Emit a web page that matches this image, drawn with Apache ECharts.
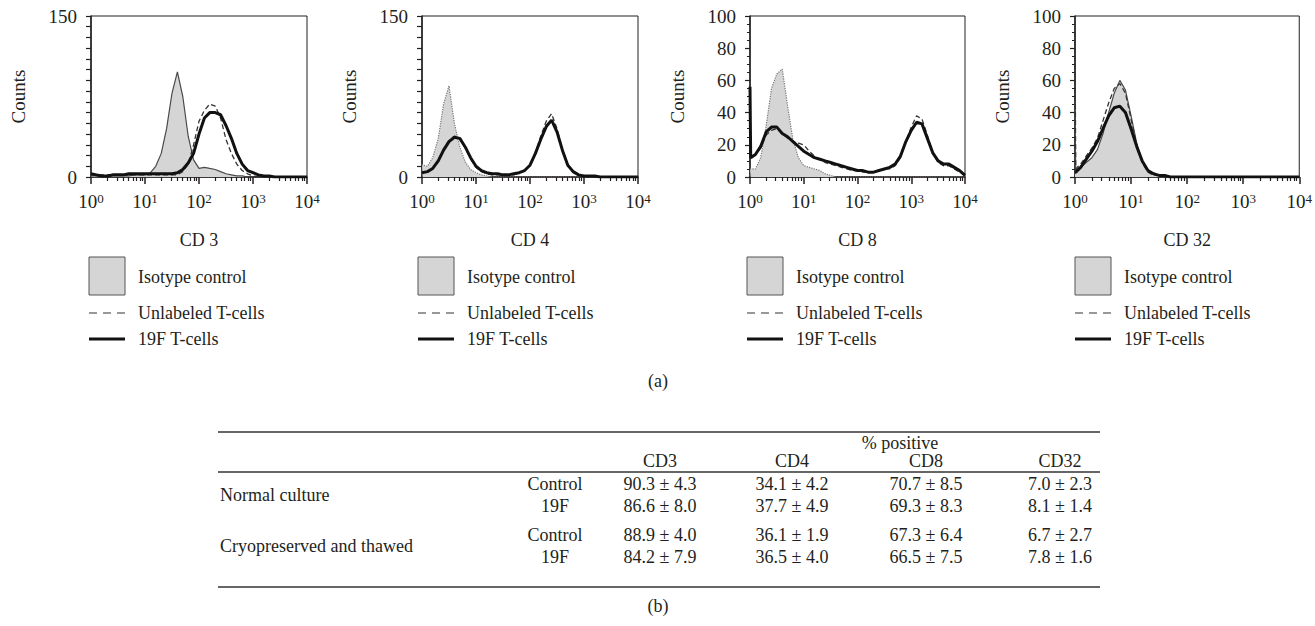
<!DOCTYPE html>
<html><head><meta charset="utf-8">
<script src="https://cdn.jsdelivr.net/npm/echarts@6/dist/echarts.min.js"></script>
<style>html,body{margin:0;padding:0;background:#fff}#c{width:1315px;height:626px}</style>
</head><body><div id="c"></div>
<script>
// ---- histogram channels (fluorescence intensity, log scale) ----
const xChannels = [1, 1.03, 1.26, 1.58, 2.0, 2.51, 3.16, 3.98, 5.01, 6.31, 7.94, 10, 12.6, 15.8, 20, 25.1, 31.6, 39.8, 50.1, 63.1, 79.4, 100, 126, 158, 200, 251, 316, 398, 501, 631, 794, 1000, 1259, 1585, 1995, 2512, 3162, 3981, 5012, 6310, 7943, 10000];

// CD 3
const cd3Isotype   = [1,1, 1,0,0,1,1,1,1,2,2,2, 4,10,22,45,78,98,75,38,16,8, 9,8,7,5,3,2,1,1,0,0, 0,0,0,0,0,0,0,0,0,0];
const cd3Unlabeled = [2,2, 2,2,2,2,2,2,2,2,2,2, 2,2,2,2,2,2,5,12,30,52, 62,68,66,55,35,22,12,6,3,1, 0,0,0,0,0,0,0,0,0,0];
const cd3Labeled   = [3,3, 2,1,1,2,2,2,3,3,3,3, 3,3,3,3,3,4,7,13,22,40, 55,60,60,58,48,36,22,12,6,4, 2,1,1,0,0,0,0,0,0,0];
// CD 4
const cd4Isotype   = [12,11, 10,18,36,68,85,50,28,14,7,4, 2,1,0,0,0,0,0,0,0,0, 0,0,0,0,0,0,0,0,0,0, 0,0,0,0,0,0,0,0,0,0];
const cd4Unlabeled = [4,4, 5,8,16,26,34,38,36,27,17,9, 5,3,2,2,2,2,2,4,6,11, 23,38,52,59,45,26,11,4,2,1, 0,0,0,0,0,0,0,0,0,0];
const cd4Labeled   = [4,4, 5,8,15,25,33,37,36,28,18,10, 6,4,3,3,2,2,3,4,6,11, 22,35,47,53,42,25,11,5,2,1, 1,1,0,0,0,0,0,0,0,0];
// CD 8
const cd8Isotype   = [5,5, 5,12,32,55,64,67,44,23,12,7, 6,5,4,2,1,0,0,0,0,0, 0,0,0,0,0,0,0,0,0,0, 0,0,0,0,0,0,0,0,0,0];
const cd8Unlabeled = [50,12, 14,18,26,29,30,27,24,22,21,20, 16,13,11,9,8,7,6,5,4,4, 3,3,3,4,5,5,7,12,22,31, 38,36,26,15,9,7,7,5,3,1];
const cd8Labeled   = [56,12, 14,19,28,31,31,27,25,22,19,16, 14,12,11,10,9,8,7,6,5,4, 4,3,3,4,5,6,8,13,22,29, 34,33,24,15,10,8,8,6,4,1];
// CD 32
const cd32Isotype   = [46,4, 6,9,12,17,27,40,52,60,54,38, 21,10,4,2,1,1,0,0,0,0, 0,0,0,0,0,0,0,0,0,0, 0,0,0,0,0,0,0,0,0,0];
const cd32Unlabeled = [90,5, 8,13,18,24,35,46,55,58,52,36, 20,9,3,1,1,0,0,0,0,0, 0,0,0,0,0,0,0,0,0,0, 0,0,0,0,0,0,0,0,0,0];
const cd32Labeled   = [3,3, 6,11,16,22,30,38,43,44,40,30, 19,10,4,2,1,1,0,0,0,0, 0,0,0,0,0,0,0,0,0,0, 0,0,0,0,0,0,0,0,0,0];

const panelNames = ['CD 3', 'CD 4', 'CD 8', 'CD 32'];
const yMaxima = [150, 150, 100, 100];
const legendLabels = ['Isotype control', 'Unlabeled T-cells', '19F T-cells'];

// ---- table (b) ----
const tableMarkers = ['CD3', 'CD4', 'CD8', 'CD32'];
const tableConditions = ['Normal culture', 'Cryopreserved and thawed'];
const tableGroups = ['Control', '19F'];
const normalControlMean = [90.3, 34.1, 70.7, 7.0];
const normalControlSd   = [4.3, 4.2, 8.5, 2.3];
const normal19FMean     = [86.6, 37.7, 69.3, 8.1];
const normal19FSd       = [8.0, 4.9, 8.3, 1.4];
const cryoControlMean   = [88.9, 36.1, 67.3, 6.7];
const cryoControlSd     = [4.0, 1.9, 6.4, 2.7];
const cryo19FMean       = [84.2, 36.5, 66.5, 7.8];
const cryo19FSd         = [7.9, 4.0, 7.5, 1.6];

// ---- layout / style ----
const FF = '"Liberation Serif", "DejaVu Serif", serif';
const INK = '#231f20';
const FS = 18;
const TICK_FS = 19;
const panels = [
  {left: 91,   width: 216, legendX: 89,   iso: cd3Isotype,  unl: cd3Unlabeled,  lab: cd3Labeled,  isoLine: 'solid',  isoColor: '#4a4a4a'},
  {left: 422,  width: 216, legendX: 418,  iso: cd4Isotype,  unl: cd4Unlabeled,  lab: cd4Labeled,  isoLine: 'dotted', isoColor: '#777'},
  {left: 750,  width: 215, legendX: 747,  iso: cd8Isotype,  unl: cd8Unlabeled,  lab: cd8Labeled,  isoLine: 'dotted', isoColor: '#777'},
  {left: 1075, width: 226, legendX: 1075, iso: cd32Isotype, unl: cd32Unlabeled, lab: cd32Labeled, isoLine: 'solid',  isoColor: '#4a4a4a'}
];
const GRID_TOP = 16, GRID_H = 161;

const minorDecadeTicks = [];
for (let d = 0; d < 4; d++) for (let m = 2; m <= 9; m++) minorDecadeTicks.push(d + Math.log10(m));

const pairs = arr => xChannels.map((x, i) => [x, arr[i]]);

const grid = [], xAxis = [], yAxis = [], series = [], graphic = [];
panels.forEach((p, i) => {
  grid.push({left: p.left, top: GRID_TOP, width: p.width, height: GRID_H, show: true,
    borderColor: INK, borderWidth: 1, backgroundColor: 'transparent'});
  xAxis.push({
    type: 'log', logBase: 10, gridIndex: i, min: 1, max: 10000,
    axisLine: {onZero: false, lineStyle: {color: INK, width: 1.5}},
    axisTick: {length: 7, lineStyle: {color: INK, width: 1.5}},
    splitLine: {show: false},
    axisLabel: {
      margin: 15,
      formatter: v => '{b|10}{s|' + Math.round(Math.log10(v)) + '}',
      rich: {b: {fontSize: TICK_FS, fontFamily: FF, color: INK},
             s: {fontSize: 13, fontFamily: FF, color: INK, verticalAlign: 'top'}}
    },
    name: panelNames[i], nameLocation: 'middle', nameGap: 54,
    nameTextStyle: {fontFamily: FF, fontSize: FS, color: INK}
  });
  xAxis.push({
    type: 'value', gridIndex: i, min: 0, max: 4, position: 'bottom',
    axisLine: {show: false}, axisLabel: {show: false}, splitLine: {show: false},
    axisTick: {show: true, customValues: minorDecadeTicks, length: 4, lineStyle: {color: INK, width: 1.2}}
  });
  const big = yMaxima[i] === 150;
  yAxis.push({
    type: 'value', gridIndex: i, min: 0, max: yMaxima[i], interval: big ? 10 : 20,
    axisLine: {show: true, lineStyle: {color: INK, width: 1.5}},
    axisTick: {show: true, length: 5, lineStyle: {color: INK, width: 1.2}},
    minorTick: {show: !big, splitNumber: 4, length: 3, lineStyle: {color: INK, width: 1}},
    splitLine: {show: false},
    axisLabel: {margin: 14, fontFamily: FF, fontSize: TICK_FS, color: INK,
      formatter: v => big ? ((v === 0 || v === 150) ? String(v) : '') : String(v)},
    name: 'Counts', nameLocation: 'middle', nameGap: 63, nameRotate: 90,
    nameTextStyle: {fontFamily: FF, fontSize: 19, color: INK}
  });
  const xi = 2 * i;
  series.push({type: 'line', xAxisIndex: xi, yAxisIndex: i, data: pairs(p.iso), showSymbol: false, silent: true,
    lineStyle: {color: p.isoColor, width: 1.2, type: p.isoLine}, areaStyle: {color: '#d5d5d5', opacity: 1}, z: 2});
  series.push({type: 'line', xAxisIndex: xi, yAxisIndex: i, data: pairs(p.unl), showSymbol: false, silent: true,
    lineStyle: {color: '#333', width: 1.3, type: [5, 3]}, z: 3});
  series.push({type: 'line', xAxisIndex: xi, yAxisIndex: i, data: pairs(p.lab), showSymbol: false, silent: true,
    lineStyle: {color: '#111', width: 3}, z: 4});

  // legend below each panel
  const L = p.legendX;
  graphic.push({type: 'rect', shape: {x: L, y: 257, width: 36, height: 38}, style: {fill: '#d5d5d5', stroke: '#555', lineWidth: 1}});
  graphic.push({type: 'line', shape: {x1: L, y1: 313, x2: L + 36, y2: 313}, style: {stroke: '#333', lineWidth: 1.2, lineDash: [8, 6]}});
  graphic.push({type: 'line', shape: {x1: L, y1: 339, x2: L + 36, y2: 339}, style: {stroke: '#111', lineWidth: 3}});
  [277, 313, 339].forEach((y, k) => graphic.push({type: 'text', style: {text: legendLabels[k], x: L + 49, y: y,
    fill: INK, fontSize: FS, fontFamily: FF, align: 'left', verticalAlign: 'middle'}}));
});

function txt(text, x, y, align) {
  return {type: 'text', style: {text: text, x: x, y: y, fill: INK, fontSize: FS, fontFamily: FF,
    align: align || 'center', verticalAlign: 'middle'}};
}
function rule(y) {
  return {type: 'line', shape: {x1: 218, y1: y, x2: 1100, y2: y}, style: {stroke: '#333', lineWidth: 1.5}};
}
graphic.push(txt('(a)', 658, 381));
graphic.push(txt('(b)', 658, 606));
graphic.push(rule(432), rule(472), rule(587));
graphic.push(txt('% positive', 900, 443));
const colX = [660, 792, 926, 1060];
tableMarkers.forEach((m, j) => graphic.push(txt(m, colX[j], 461)));
const rowsY = [484, 506, 535, 557];
const rowMeans = [normalControlMean, normal19FMean, cryoControlMean, cryo19FMean];
const rowSds = [normalControlSd, normal19FSd, cryoControlSd, cryo19FSd];
rowsY.forEach((y, r) => {
  graphic.push(txt(tableGroups[r % 2], 555, y));
  colX.forEach((x, j) => graphic.push(txt(rowMeans[r][j].toFixed(1) + ' \u00b1 ' + rowSds[r][j].toFixed(1), x, y)));
});
graphic.push(txt(tableConditions[0], 220, (rowsY[0] + rowsY[1]) / 2, 'left'));
graphic.push(txt(tableConditions[1], 220, (rowsY[2] + rowsY[3]) / 2, 'left'));

const chart = echarts.init(document.getElementById('c'), null, {renderer: 'svg'});
chart.setOption({animation: false, grid, xAxis, yAxis, series, graphic});
</script>
</body></html>
